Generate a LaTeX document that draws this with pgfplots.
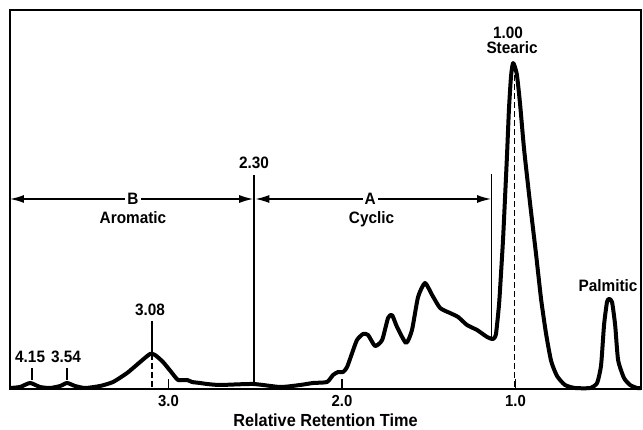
\documentclass[border=0pt]{standalone}
\usepackage{fontspec}
\setmainfont{Liberation Sans}[FakeStretch=0.93]
\usepackage{pgfplots}
\pgfplotsset{compat=1.18}
\usetikzlibrary{arrows.meta}
\begin{document}
\begin{tikzpicture}[lbl/.style={font=\bfseries\fontsize{16.5}{16.5}\selectfont}]
\begin{axis}[
  scale only axis, width=631pt, height=379pt,
  x dir=reverse, xmin=0.277, xmax=3.914, ymin=0, ymax=379,
  axis line style={line width=1.6pt},
  xtick={1,2,3}, xticklabels={1.0,2.0,3.0}, ytick=\empty,
  xtick pos=bottom, tick align=inside, major tick length=10pt,
  tick style={line width=1.3pt, black},
  /pgf/number format/assume math mode=true,
  xticklabel style={font=\bfseries\fontsize{16}{16}\selectfont, yshift=-3pt},
  xlabel={Relative Retention Time},
  xlabel style={font=\bfseries\fontsize{17.5}{17.5}\selectfont, yshift=0pt},
  clip=false,
]
% chromatogram trace
\addplot[line width=4pt, line join=round, smooth, tension=0.35] coordinates {
(3.914,1) (3.856,2) (3.798,6) (3.741,2) (3.683,1) (3.625,3) (3.585,6) (3.539,3)
(3.481,1) (3.395,3) (3.320,7) (3.239,16) (3.164,27) (3.107,35) (3.078,34) (3.032,27)
(2.980,16) (2.945,9) (2.893,9) (2.865,7) (2.818,6) (2.778,5) (2.703,4) (2.513,5)
(2.357,2) (2.242,4) (2.167,6) (2.087,7) (2.052,14) (2.023,17) (1.994,17) (1.971,22)
(1.942,36) (1.914,49) (1.879,55) (1.850,54) (1.810,43) (1.769,49) (1.735,71) (1.712,74)
(1.683,62) (1.631,46) (1.597,59) (1.562,92) (1.522,106) (1.481,94) (1.435,81) (1.378,76)
(1.331,72) (1.280,64) (1.222,59) (1.164,52) (1.130,50) (1.113,55) (1.095,85) (1.084,115)
(1.072,150) (1.061,190) (1.049,235) (1.038,280) (1.026,313) (1.014,326) (0.993,315)
(0.974,285) (0.951,240) (0.916,185) (0.882,135) (0.853,90) (0.824,55) (0.795,28)
(0.761,13) (0.715,4) (0.657,1) (0.571,1) (0.530,6) (0.507,24) (0.490,64) (0.473,87)
(0.461,90) (0.444,87) (0.426,64) (0.409,29) (0.375,11) (0.340,4) (0.300,1) (0.277,1)
};
% marker lines
\addplot[line width=1.5pt, dash pattern=on 6pt off 3pt] coordinates {(1.005,2) (1.005,320)};
\addplot[line width=1.5pt, dash pattern=on 6pt off 3pt] coordinates {(3.095,2) (3.095,34)};
\addplot[line width=1.5pt] coordinates {(3.095,34) (3.095,68)};
\addplot[line width=1.5pt] coordinates {(3.787,9) (3.787,21)};
\addplot[line width=1.5pt] coordinates {(3.585,9) (3.585,21)};
\addplot[line width=1.5pt] coordinates {(2.507,3) (2.507,214)};
\addplot[line width=1.5pt] coordinates {(1.138,52) (1.138,215)};
% region arrows
\addplot[line width=1.5pt, {Latex[length=14pt,width=8pt]}-{Latex[length=14pt,width=8pt]}] coordinates {(3.914,190) (2.512,190)};
\addplot[line width=1.5pt, {Latex[length=14pt,width=8pt]}-{Latex[length=14pt,width=8pt]}] coordinates {(2.500,190) (1.141,190)};
% labels
\node[lbl, fill=white, inner sep=2pt] at (axis cs:3.205,190) {B};
\node[lbl] at (axis cs:3.205,171) {Aromatic};
\node[lbl, fill=white, inner sep=2pt] at (axis cs:1.838,190) {A};
\node[lbl] at (axis cs:1.830,170) {Cyclic};
\node[lbl] at (axis cs:2.507,226) {2.30};
\node[lbl] at (axis cs:3.107,79) {3.08};
\node[lbl] at (axis cs:3.798,32) {4.15};
\node[lbl] at (axis cs:3.591,32) {3.54};
\node[lbl] at (axis cs:1.043,356) {1.00};
\node[lbl] at (axis cs:1.020,341) {Stearic};
\node[lbl] at (axis cs:0.467,103) {Palmitic};
\end{axis}
\path (current axis.south west) ++(-10pt,-41pt) coordinate (bl);
\path (current axis.north east) ++(2pt,10pt) coordinate (tr);
\path (bl) rectangle (tr);
\end{tikzpicture}
\end{document}
